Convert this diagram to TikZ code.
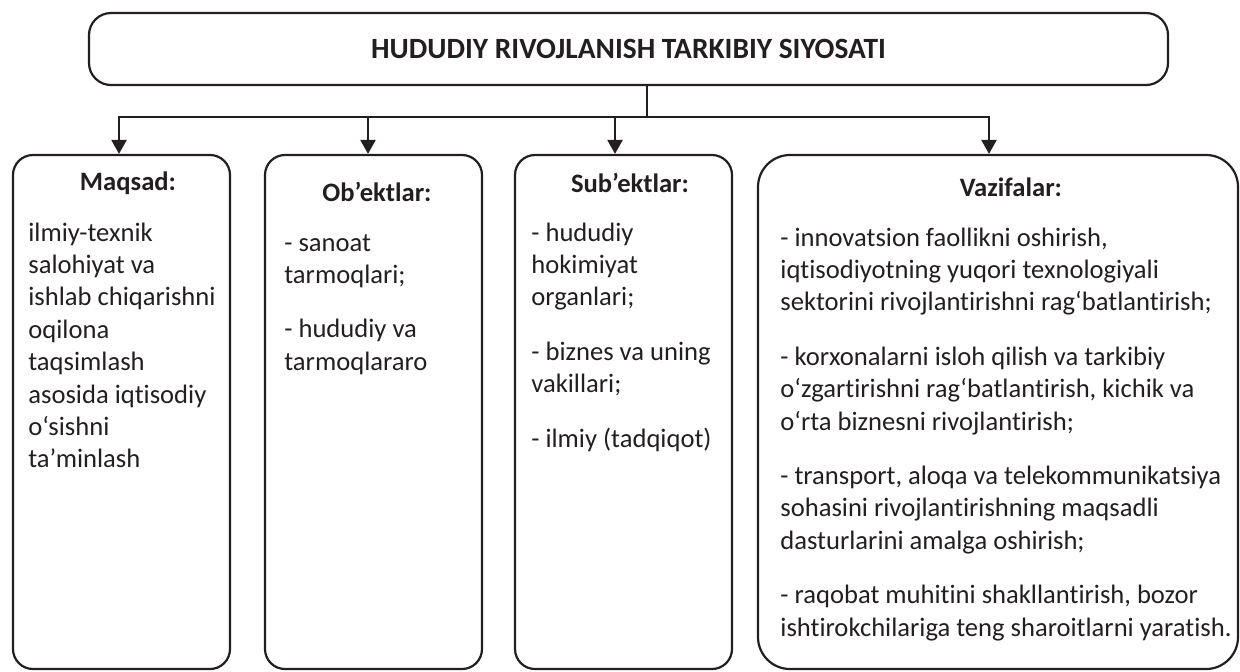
\documentclass[tikz,border=0pt]{standalone}
\usepackage{fontspec}
\setmainfont{Carlito}[Ligatures={TeX,NoCommon}]
\usepackage{xcolor}
\usetikzlibrary{arrows.meta,positioning,calc}
\definecolor{ink}{HTML}{231F20}

\begin{document}
\begin{tikzpicture}[x=0.5pt,y=-0.5pt,
    box/.style={draw=ink, line width=1.1pt, rounded corners=10pt, inner sep=0pt},
    head/.style={anchor=base, inner sep=0pt, text=ink, font=\fontsize{13.3}{16.2}\selectfont\bfseries},
    body/.style={anchor=base west, inner sep=0pt, align=flush left, text=ink, font=\fontsize{13.3}{16.2}\selectfont},
    link/.style={draw=ink, line width=1.1pt},
    arr/.style={link, -{Triangle[width=7.5pt,length=7pt]}}]
    \useasboundingbox (0,0) rectangle (1240,671);

    % Top box
    \node[box, rounded corners=11pt, minimum width=539.5pt, minimum height=36pt,
          font=\fontsize{14.7}{17}\selectfont\bfseries, text=ink] (title) at (628.5,49)
          {HUDUDIY RIVOJLANISH TARKIBIY SIYOSATI};

    % Four boxes below
    \node[box, minimum width=108.5pt, minimum height=257pt] (maqsad) at (121.5,412) {};
    \node[box, minimum width=108.5pt, minimum height=257pt] (obekt) at (373.5,412) {};
    \node[box, minimum width=108.5pt, minimum height=257pt] (subekt) at (623.5,412) {};
    \node[box, rounded corners=16pt, minimum width=240pt, minimum height=257pt] (vazifa) at (998,412) {};

    % Branches
    \coordinate (split) at (647,117);
    \draw[link] (title.south -| split) -- (split);
    \draw[arr] (split) -| ([xshift=-1.25pt]maqsad.north);
    \draw[arr] (split) -| ([xshift=-2.75pt]obekt.north);
    \draw[arr] (split) -| ([xshift=-4.25pt]subekt.north);
    \draw[arr] (split) -| ([xshift=-4.5pt]vazifa.north);

    % Headings
    \node[head] (maqsadhead) at (128,190.5) {Maqsad:};
    \node[head] (obekthead) at (377,201) {Ob’ektlar:};
    \node[head] (subekthead) at (630,192.5) {Sub’ektlar:};
    \node[head] (vazifahead) at (1011,196) {Vazifalar:};

    % Box texts
    \node[body, text width=100pt] (maqsadtext) at (28,241)
        {ilmiy-texnik\\ salohiyat va\\ ishlab chiqarishni\\ oqilona\\ taqsimlash\\
         asosida iqtisodiy\\ o‘sishni\\ ta’minlash};
    \node[body, text width=100pt] (obekttext) at (284,251)
        {- sanoat\\ tarmoqlari;\\[11pt] - hududiy va\\ tarmoqlararo};
    \node[body, text width=100pt] (subekttext) at (531,241)
        {- hududiy\\ hokimiyat\\ organlari;\\[11pt] - biznes va uning\\ vakillari;\\[11pt]
         - ilmiy (tadqiqot)};
    \node[body, text width=236pt] (vazifatext) at (780,246)
        {- innovatsion faollikni oshirish,\\ iqtisodiyotning yuqori texnologiyali\\
         sektorini rivojlantirishni rag‘batlantirish;\\[11pt]
         - korxonalarni isloh qilish va tarkibiy\\ o‘zgartirishni rag‘batlantirish, kichik va\\
         o‘rta biznesni rivojlantirish;\\[11pt]
         - transport, aloqa va telekommunikatsiya\\ sohasini rivojlantirishning maqsadli\\
         dasturlarini amalga oshirish;\\[11pt]
         - raqobat muhitini shakllantirish, bozor\\ ishtirokchilariga teng sharoitlarni yaratish.};
\end{tikzpicture}
\end{document}
